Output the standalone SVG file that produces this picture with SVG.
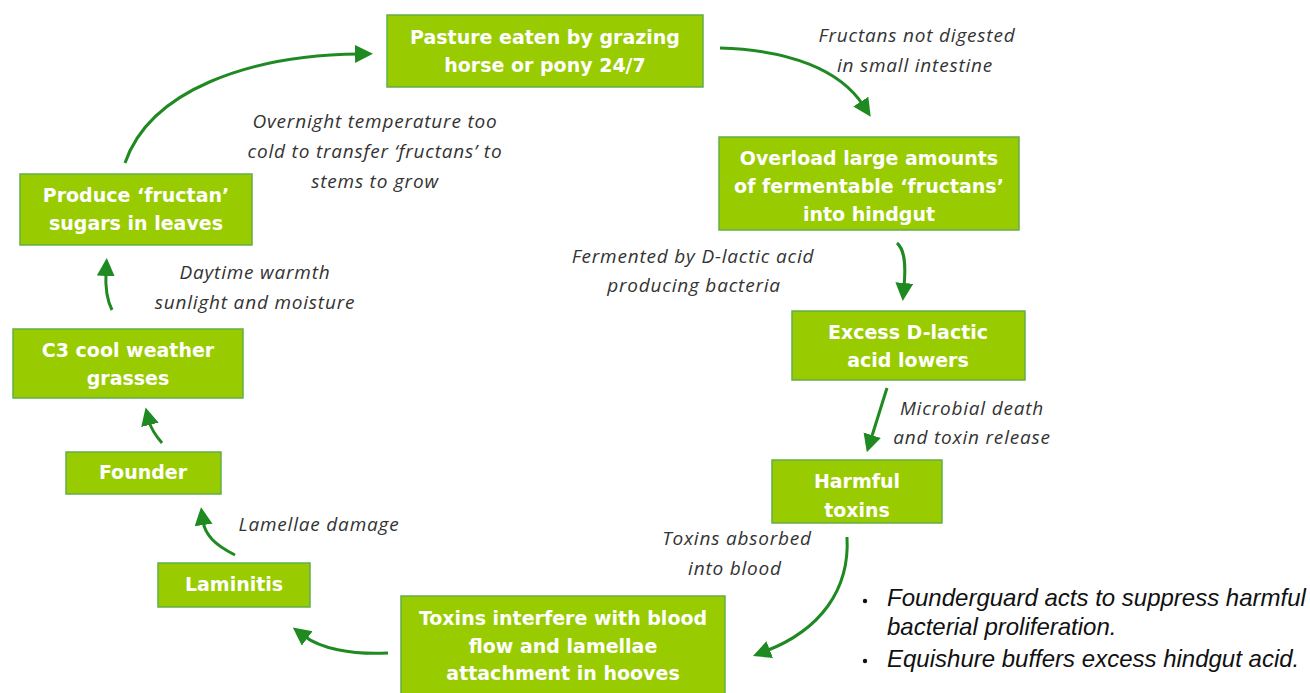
<svg xmlns="http://www.w3.org/2000/svg" width="1310" height="693" viewBox="0 0 1310 693">
<style>
.box{fill:#99cc00;stroke:#63ad4a;stroke-width:1.5}
.bt{font-family:"DejaVu Sans",Verdana,sans-serif;font-weight:bold;font-size:19px;fill:#ffffff;text-anchor:middle}
.lbl{font-family:"Open Sans","DejaVu Sans",sans-serif;font-style:italic;font-size:19px;letter-spacing:0.8px;fill:#333333;text-anchor:middle}
.note{font-family:"Liberation Sans",Arial,sans-serif;font-style:italic;font-size:24px;fill:#111111}
.arr{fill:none;stroke:#1f8a22;stroke-width:3;marker-end:url(#ah)}
</style>
<defs>
<marker id="ah" markerUnits="userSpaceOnUse" markerWidth="20" markerHeight="20" viewBox="0 0 20 20" refX="4" refY="9" orient="auto">
<path d="M0,0 L18,9 L0,18 z" fill="#1f8a22"/>
</marker>
</defs>
<rect width="1310" height="693" fill="#ffffff"/>
<g id="connectors">
<path class="arr" d="M125,163 C150,90 250,55 359,54"/>
<path class="arr" d="M720,48 C790,50 840,70 863,105"/>
<path class="arr" d="M897,243 C905,250 906,265 904,287"/>
<path class="arr" d="M887,388 L871,439"/>
<path class="arr" d="M847,537 C850,590 820,630 766,651"/>
<path class="arr" d="M388,653 C350,655 320,648 304,636"/>
<path class="arr" d="M235,555 C215,545 205,535 203,521"/>
<path class="arr" d="M162,443 C156,436 151,429 149,421"/>
<path class="arr" d="M112,310 C107,300 105,290 106,272"/>
</g>
<g id="n-pasture">
<rect class="box" x="387" y="15" width="316" height="72"/>
<text class="bt" x="545" y="44">Pasture eaten by grazing</text>
<text class="bt" x="545" y="72">horse or pony 24/7</text>
</g>
<g id="n-overload">
<rect class="box" x="719" y="137" width="300" height="93"/>
<text class="bt" x="869" y="165">Overload large amounts</text>
<text class="bt" x="869" y="193">of fermentable ‘fructans’</text>
<text class="bt" x="869" y="221">into hindgut</text>
</g>
<g id="n-excess">
<rect class="box" x="792" y="311" width="233" height="69"/>
<text class="bt" x="908" y="339">Excess D-lactic</text>
<text class="bt" x="908" y="367">acid lowers</text>
</g>
<g id="n-harmful">
<rect class="box" x="772" y="460" width="170" height="63"/>
<text class="bt" x="857" y="488">Harmful</text>
<text class="bt" x="857" y="517">toxins</text>
</g>
<g id="n-interfere">
<rect class="box" x="401" y="596" width="324" height="100"/>
<text class="bt" x="563" y="625">Toxins interfere with blood</text>
<text class="bt" x="563" y="653">flow and lamellae</text>
<text class="bt" x="563" y="680">attachment in hooves</text>
</g>
<g id="n-laminitis">
<rect class="box" x="158" y="563" width="152" height="44"/>
<text class="bt" x="234" y="591">Laminitis</text>
</g>
<g id="n-founder">
<rect class="box" x="66" y="452" width="155" height="42"/>
<text class="bt" x="143" y="479">Founder</text>
</g>
<g id="n-c3">
<rect class="box" x="13" y="329" width="230" height="69"/>
<text class="bt" x="128" y="357">C3 cool weather</text>
<text class="bt" x="128" y="385">grasses</text>
</g>
<g id="n-produce">
<rect class="box" x="20" y="174" width="232" height="71"/>
<text class="bt" x="136" y="202">Produce ‘fructan’</text>
<text class="bt" x="136" y="230">sugars in leaves</text>
</g>
<g id="labels">
<text class="lbl" x="917" y="42">Fructans not digested</text>
<text class="lbl" x="915" y="72">in small intestine</text>
<text class="lbl" x="375" y="128">Overnight temperature too</text>
<text class="lbl" x="375" y="158">cold to transfer ‘fructans’ to</text>
<text class="lbl" x="375" y="188">stems to grow</text>
<text class="lbl" x="693" y="263">Fermented by D-lactic acid</text>
<text class="lbl" x="694" y="292">producing bacteria</text>
<text class="lbl" x="255" y="279">Daytime warmth</text>
<text class="lbl" x="255" y="309">sunlight and moisture</text>
<text class="lbl" x="972" y="415">Microbial death</text>
<text class="lbl" x="972" y="444">and toxin release</text>
<text class="lbl" x="737" y="545">Toxins absorbed</text>
<text class="lbl" x="735" y="575">into blood</text>
<text class="lbl" x="319" y="531">Lamellae damage</text>
</g>
<g id="notes">
<circle cx="865" cy="601" r="2.2" fill="#111111"/>
<circle cx="865" cy="661" r="2.2" fill="#111111"/>
<text class="note" x="887" y="606">Founderguard acts to suppress harmful</text>
<text class="note" x="887" y="635">bacterial proliferation.</text>
<text class="note" x="887" y="667">Equishure buffers excess hindgut acid.</text>
</g>
</svg>
